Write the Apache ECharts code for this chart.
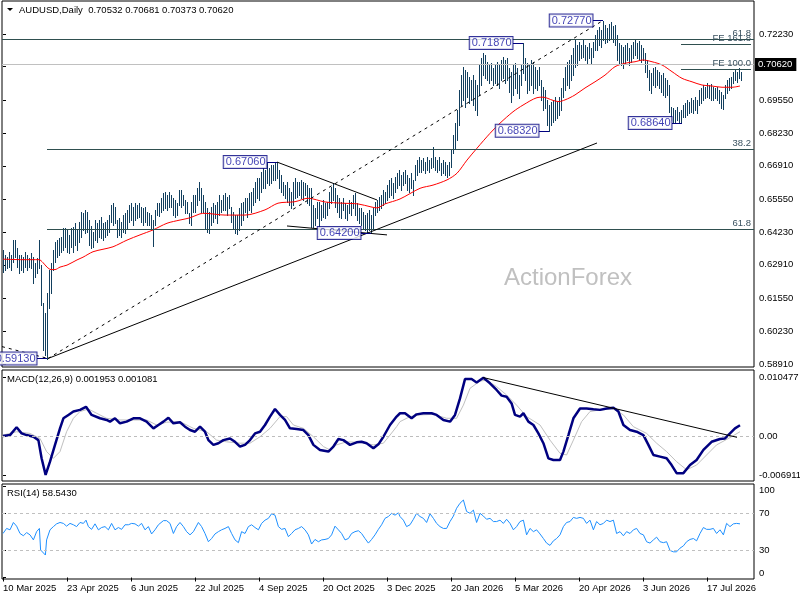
<!DOCTYPE html>
<html><head><meta charset="utf-8">
<script src="https://cdn.jsdelivr.net/npm/echarts@6/dist/echarts.min.js"></script>
<style>html,body{margin:0;padding:0;background:#fff}#c{width:800px;height:600px}</style>
</head><body><div id="c"></div>
<script>
// ---------- DATA ----------
const symbolTitle = 'AUDUSD,Daily';
const lastOHLC = ['0.70532', '0.70681', '0.70373', '0.70620'];
const macdTitle = 'MACD(12,26,9) 0.001953 0.001081';
const rsiTitle = 'RSI(14) 58.5430';
const watermark = 'ActionForex';

const dateLabels = ['10 Mar 2025','23 Apr 2025','6 Jun 2025','22 Jul 2025','4 Sep 2025','20 Oct 2025','3 Dec 2025','20 Jan 2026','5 Mar 2026','20 Apr 2026','3 Jun 2026','17 Jul 2026'];
const dateTickIdx = [0,32,64,96,128,160,192,224,256,288,320,352];
const priceTicks = [0.58910,0.60230,0.61550,0.62910,0.64230,0.65550,0.66910,0.68230,0.69550,0.70910,0.72230];
const macdTicks = [-0.006911, 0, 0.010477];
const rsiTicks = [0, 30, 70, 100];

// daily highs / lows in pips (1/10000)
const highPips = [
6351,6331,6323,6343,6331,6391,6391,6359,6331,6331,
6323,6343,6331,6319,6339,6323,6299,6319,6391,6290,
6137,6097,6177,6270,6299,6351,6383,6391,6399,6404,
6440,6440,6432,6412,6440,6444,6460,6432,6464,6504,
6500,6513,6504,6472,6448,6424,6472,6460,6472,6484,
6460,6464,6472,6492,6533,6541,6525,6472,6480,6464,
6492,6500,6513,6533,6541,6525,6541,6533,6541,6525,
6521,6525,6504,6500,6492,6472,6513,6541,6541,6561,
6581,6585,6573,6585,6573,6561,6553,6541,6593,6593,
6573,6553,6545,6500,6545,6573,6573,6601,6626,6601,
6573,6545,6521,6504,6525,6541,6533,6545,6573,6553,
6573,6581,6565,6573,6525,6504,6492,6492,6521,6541,
6545,6561,6561,6581,6585,6601,6626,6642,6642,6666,
6682,6674,6702,6682,6694,6694,6702,6706,6674,6654,
6626,6613,6626,6601,6585,6626,6642,6626,6626,6634,
6626,6621,6613,6601,6601,6533,6521,6545,6545,6533,
6553,6541,6545,6585,6605,6621,6601,6573,6561,6545,
6561,6541,6533,6553,6545,6573,6581,6541,6521,6521,
6504,6492,6500,6513,6492,6521,6545,6553,6565,6573,
6593,6585,6613,6634,6642,6621,6646,6662,6674,6654,
6666,6674,6654,6642,6662,6634,6694,6714,6726,6714,
6722,6706,6726,6714,6722,6767,6726,6714,6726,6702,
6714,6706,6694,6706,6755,6815,6864,6916,6997,7057,
7090,7078,7070,7049,7037,7057,7037,7017,7098,7126,
7146,7138,7110,7098,7106,7086,7098,7110,7098,7118,
7130,7118,7126,7086,7070,7098,7106,7086,7057,7098,
7187,7126,7106,7098,7118,7110,7090,7078,7090,7037,
7009,6997,6957,6936,6948,6957,6969,6948,6969,7005,
7045,7090,7110,7118,7138,7166,7199,7179,7191,7179,
7199,7179,7171,7187,7166,7191,7219,7239,7251,7239,
7277,7259,7247,7263,7271,7255,7259,7219,7187,7179,
7171,7179,7187,7166,7179,7191,7199,7187,7195,7179,
7166,7146,7118,7078,7066,7086,7090,7078,7070,7057,
7066,7045,7037,7017,6928,6924,6916,6928,6908,6916,
6936,6944,6957,6948,6965,6957,6969,6957,6997,7005,
7017,7009,7025,7017,7021,7009,7005,7009,6997,6989,
6977,7017,7037,7045,7049,7070,7078,7070,7086,7068
];
const lowPips = [
6262,6270,6278,6282,6270,6303,6323,6282,6258,6270,
6262,6282,6270,6282,6278,6218,6242,6258,6278,6129,
5947,5927,5913,6117,6177,6270,6303,6323,6331,6343,
6351,6363,6343,6339,6363,6343,6371,6351,6383,6404,
6432,6420,6424,6371,6359,6363,6391,6383,6404,6399,
6391,6404,6412,6424,6464,6452,6460,6404,6412,6404,
6424,6420,6440,6464,6472,6452,6472,6480,6484,6464,
6452,6464,6452,6452,6440,6367,6452,6492,6488,6504,
6513,6521,6513,6525,6525,6492,6484,6492,6533,6525,
6533,6500,6500,6460,6452,6504,6504,6533,6553,6504,
6504,6440,6424,6420,6452,6464,6480,6460,6492,6504,
6513,6513,6492,6521,6464,6440,6420,6416,6432,6452,
6472,6504,6484,6513,6504,6533,6545,6561,6553,6585,
6601,6601,6621,6613,6621,6634,6634,6642,6601,6585,
6573,6561,6545,6533,6521,6533,6561,6565,6573,6561,
6553,6573,6541,6533,6444,6444,6452,6480,6444,6472,
6484,6480,6492,6521,6541,6553,6525,6504,6484,6480,
6513,6480,6472,6500,6492,6521,6492,6472,6460,6452,
6440,6432,6424,6432,6420,6440,6492,6504,6513,6521,
6533,6541,6553,6565,6573,6561,6585,6601,6613,6593,
6613,6621,6593,6585,6601,6573,6634,6654,6666,6666,
6674,6662,6674,6666,6682,6686,6674,6666,6674,6654,
6662,6654,6646,6654,6686,6743,6763,6795,6856,6936,
6957,6928,6969,6944,6957,6936,6916,6896,6977,7017,
7057,7045,7037,7025,7037,7017,7025,7017,7005,7037,
7045,7025,7037,6989,6948,6977,7005,6985,6965,7017,
7066,7037,6985,6997,7017,6985,7005,6997,7017,6957,
6916,6924,6856,6832,6856,6868,6876,6884,6896,6916,
6969,6997,7017,7005,7037,7057,7090,7098,7118,7126,
7130,7118,7106,7126,7106,7130,7158,7158,7179,7171,
7199,7187,7191,7199,7207,7191,7179,7118,7106,7098,
7086,7106,7118,7098,7110,7126,7138,7126,7118,7110,
7118,7070,7049,6997,6985,7017,7009,7017,7005,6989,
6977,6969,6977,6908,6876,6868,6868,6876,6864,6864,
6888,6888,6896,6904,6908,6904,6916,6904,6936,6944,
6957,6965,6969,6965,6957,6957,6965,6957,6944,6924,
6920,6965,6985,6997,7005,7025,7037,7029,7045,7037
];

// moving average [bar index, pips]
const maPoints = [[0,6314],[10,6312],[18,6312],[20,6300],[22,6282],[24,6272],[26,6272],[28.5,6282],[32,6290],[37,6311],[40,6322],[45,6344],[50,6354],[55,6364],[62,6391],[68.5,6412],[75,6432],[82,6459],[88.5,6472],[93.5,6481],[98.5,6497],[101,6499],[111,6492],[121,6492],[131,6513],[137.5,6540],[146,6546],[152.5,6560],[161,6545],[169.5,6540],[177.5,6537],[184,6525],[187,6521],[191,6537],[198.5,6557],[208.5,6600],[215,6613],[222,6634],[227,6661],[232,6714],[237,6762],[243.5,6822],[248.5,6863],[255,6909],[260,6936],[267,6966],[270,6968],[275,6955],[278,6950],[281,6957],[283.5,6966],[286,6977],[291,7005],[296,7030],[301,7057],[306,7091],[311,7105],[316,7111],[320,7118],[324.5,7111],[329.5,7098],[334.5,7071],[339.5,7044],[344.5,7030],[349.5,7017],[354.5,7013],[359.5,7008],[364.5,7008],[368.5,7013]];

// MACD main / signal  [bar index, value x 1e-4]
const macdMain = [[0,0.5],[3.5,2],[6.8,16],[9.3,5],[11.8,2],[15.2,-1],[17.7,-7],[19.3,-39.5],[21.3,-69],[23.5,-45.5],[26,-15.5],[28.5,14],[30.2,32],[32.7,38],[35.2,44],[38.5,47],[41.5,52.5],[44.3,38],[48.5,32],[51.8,29],[53.5,26],[56,32],[58.5,23],[61.8,26],[65.2,32],[68.5,32],[71.8,26],[75.2,14],[77.7,20],[80.2,26],[82.7,33],[85.2,23],[88.5,25],[91,17],[93.5,11],[96,8],[98.5,17],[101,8],[102.7,-7],[105.2,-15.5],[107.7,-12.5],[110.2,-7],[113.5,-4],[116,-10],[118.5,-18.5],[121,-15.5],[123.5,-7],[126,5],[128.5,8],[131,20],[133.5,35],[136,48.5],[138.5,38],[141,29],[143.5,14],[146.8,13],[150.2,11],[152.7,2],[155.2,-15.5],[158.5,-24.5],[162.7,-27.5],[165.2,-18.5],[167.7,-5],[170.2,-7],[173.5,-15.5],[176.8,-11],[179.3,-10],[181.8,-12.5],[185.2,-21.5],[187.7,-14.5],[190.2,-1],[193.5,20],[196.8,35],[198.5,41],[201,41],[204.3,32],[206.8,39],[210.2,41],[214.3,41],[216.8,38],[220.2,29],[223.5,26],[226,38],[228.5,67.5],[231,102],[234.3,102],[236.8,96],[240.2,104.5],[243.5,94.5],[246.8,82.5],[249.3,72.5],[251.8,70.5],[254.3,58.5],[256,38],[258.5,35],[260.2,41],[262.7,26],[265.2,20],[267.7,5],[270.2,-12.5],[272.7,-39.5],[275.2,-42.5],[278.5,-42.5],[280.2,-27.5],[282.7,2],[285.2,32],[288.5,49.5],[291.8,49.5],[295.2,48],[298.5,47],[301.8,49.5],[305.2,51],[307.7,44],[310.2,20],[313.5,11],[316.8,8],[320.2,2],[322.7,-15.5],[325.2,-33.5],[328.5,-36.5],[331.8,-39.5],[334.3,-51.5],[336.8,-66],[340.2,-66],[343.5,-51.5],[346.8,-42.5],[350.2,-24.5],[354.3,-10],[358.5,-5],[361,-4],[363.5,5],[366,14],[368.5,19.5]];
const macdSignal = [[0,2],[6.8,8],[13.5,5],[18.5,-4],[21.8,-27.5],[25.2,-39.5],[28.5,-27.5],[31.8,8],[35.2,32],[38.5,44],[42.7,48.5],[46.8,41],[51.8,32],[58.5,29],[65.2,29],[71.8,29],[76.8,20],[81.8,25],[88.5,26],[95.2,14],[101.8,8],[106.8,-7],[111.8,-10],[118.5,-12.5],[123.5,-12.5],[128.5,-1],[133.5,14],[138.5,35],[141.8,35],[145.2,20],[150.2,14],[155.2,-1],[160.2,-18.5],[163.5,-24.5],[166.8,-15.5],[171.8,-10],[178.5,-11],[185.2,-15.5],[190.2,-12.5],[193.5,2],[196.8,17],[198.5,26],[203.5,35],[208.5,38],[215.2,39],[221.8,32],[226.8,32],[230.2,55.5],[233.5,85.5],[238.5,98.5],[241.8,100],[246.8,88.5],[251.8,73.5],[256.8,55.5],[261.8,35],[268.5,20],[273.5,-7],[278.5,-30.5],[281.8,-33.5],[285.2,-7],[289.3,26],[293.5,44],[298.5,47],[305.2,48.5],[310.2,38],[315.2,17],[321.8,5],[326.8,-12.5],[331.8,-27.5],[336.8,-45.5],[341.8,-60],[346.8,-51.5],[351.8,-33.5],[356.8,-15.5],[363.5,-2.5],[368.5,8]];

// RSI [bar index, value]
const rsiPoints = [[0,48],[1.8,53.5],[3.5,52],[5.2,60],[6.8,56],[8.5,48],[10.2,45.5],[11.8,49],[13.5,46.5],[15.2,41],[16.8,50],[18.2,53.5],[18.8,30],[19.8,28],[21.2,24.5],[21.8,41],[23.5,52],[25.2,55.5],[26.8,58.5],[28.5,60],[30.2,59],[31.8,56],[33.5,59],[35.2,57.5],[36.8,55.5],[38.5,60],[40.2,59],[41.5,62.5],[42.7,55.5],[44.3,52.5],[46,58.5],[47.7,52],[49.3,54.5],[51,55.5],[52.7,52],[54.3,59],[56,52],[57.7,54.5],[59.3,52.5],[61,57.5],[62.7,57.5],[64.3,59],[66,58.5],[67.7,56],[69.3,59],[71,52],[72.7,55.5],[74.3,47.5],[76,52],[77.7,57.5],[80.2,62],[81.8,62],[83.5,59],[85.2,48],[86.8,55.5],[88.5,60],[90.2,55.5],[91.8,50],[93.5,46.5],[95.2,50],[97.7,60],[99.3,55.5],[101,48],[102.7,39],[104.3,42.5],[106,47.5],[107.7,50],[109.3,52],[111,53.5],[112.7,55.5],[114.3,48],[116,41],[117.7,38],[119.3,50],[121,48],[122.7,55.5],[124.3,57.5],[126,54.5],[127.7,52],[129.3,59],[131,62.5],[132.7,64.5],[134.3,69.5],[136,68],[137.7,55.5],[139.3,52.5],[141,53.5],[142.7,44.5],[144.3,48],[146,52],[147.7,53.5],[149.3,55.5],[151,52],[152.7,46.5],[154.3,36.5],[156,41.5],[157.7,39],[159.3,41],[161,41.5],[162.7,42.5],[164.3,46.5],[166,56],[167.7,52],[169.3,48],[171,41],[172.7,42.5],[174.3,48],[176,50],[177.7,51],[179.3,48],[181,42.5],[182.7,37.5],[184.3,41.5],[186,46.5],[187.7,52.5],[189.3,57.5],[191,64.5],[192.7,66.5],[194.3,70],[196,68],[197.7,70.5],[198.5,66.5],[200.2,62.5],[201.8,55.5],[203.5,57.5],[205.2,63.5],[206.8,70],[208.5,66.5],[210.2,64.5],[211.8,60],[213.5,69.5],[215.2,64.5],[216.8,59],[218.5,55.5],[220.2,53.5],[221.8,53.5],[223.5,61],[225.2,67],[226.8,75.5],[228.5,81],[230.2,84.5],[231,84.5],[231.8,72],[233.5,70],[235.2,73.5],[236.8,60],[238.5,70],[240.2,67],[241.8,63.5],[243.5,64.5],[245.2,61],[246.8,61],[248.5,62.5],[250.2,59],[251.8,63.5],[253.5,59],[255.2,52],[256.8,55.5],[258.5,61],[260.2,62.5],[261.8,46.5],[263.5,53.5],[265.2,50],[266.8,52],[268.5,47.5],[270.2,42.5],[271.8,37.5],[273.5,35],[275.2,40],[276.8,42.5],[278.5,46.5],[280.2,55.5],[281.8,60],[283.5,61],[285.2,65.5],[286.8,64.5],[288.5,65.5],[290.2,64.5],[291.8,59],[293.5,62.5],[295.2,52],[296.8,61],[298.5,57.5],[300.2,59],[301.8,62.5],[303.5,61],[305.2,62.5],[306.8,48],[308.5,50],[310.2,45.5],[311.8,50],[313.5,48],[315.2,52],[316.8,53.5],[318.5,48],[320.2,46.5],[321.8,39],[323.5,37.5],[325.2,41],[326.8,44],[328.5,39],[330.2,38],[331.8,39],[333.5,29.5],[335.2,28],[336.8,28],[338.5,32],[340.2,34.5],[341.8,39],[343.5,41.5],[345.2,42.5],[346.8,40],[348.5,48],[350.2,54.5],[351.8,52.5],[353.5,52.5],[355.2,53.5],[356.8,48],[358.5,52],[360.2,46.5],[361.8,59],[363.5,55.5],[365.2,58.5],[366.8,59],[368.5,58.5]];

// annotations
const pivotLabels = [[22,0.5913],[137,0.6706],[184,0.6420],[260,0.7187],[273,0.6832],[300,0.7277],[339.5,0.6864]];
const fibLevelsFull = [[0.72056,'61.8']];
const fibLevelsFrom22 = [[0.67576,'38.2'],[0.64345,'61.8']];
const feLevels = [[0.71814,'FE 161.8'],[0.70805,'FE 100.0']];
const lastClose = 0.70620;
const trendSolid = [[22.5,0.5913],[297,0.6783]];
const trendDotted = [[22.5,0.5913],[299.5,0.7275]];
const trendLeftDash = [[-0.5,0.5961],[22.5,0.5913]];
const triUpper = [[137,0.6706],[187,0.6553]];
const triLower = [[142,0.6448],[192,0.6412]];
const macdTrend = [[240,0.01048],[367,-0.0002]];
const rsiLevels = [70,30];

// ---------- CHART ----------
const FONT = '"Liberation Sans", Arial, sans-serif';
const chart = echarts.init(document.getElementById('c'));

const barData = highPips.map((h,i)=>[i, lowPips[i]/10000, h/10000]);
const maData = maPoints.map(p=>[p[0], p[1]/10000]);
const macdData = macdMain.map(p=>[p[0], p[1]/10000]);
const sigData = macdSignal.map(p=>[p[0], p[1]/10000]);

const FIBC = '#2f4f4f';
const lblStyle = {color:'#3a5260', fontSize:9.5, fontFamily:FONT};
const seg = (a,b,ls) => [{coord:a, lineStyle:ls, label:{show:false}}, {coord:b}];

const mainMarks = [];
fibLevelsFull.forEach(([v,t])=>mainMarks.push({yAxis:v, lineStyle:{color:FIBC,width:1,type:'solid'},
  label:Object.assign({show:true, position:'insideEndTop', formatter:t, distance:[3,1]}, lblStyle)}));
fibLevelsFrom22.forEach(([v,t])=>mainMarks.push([{coord:[22,v], lineStyle:{color:FIBC,width:1,type:'solid'},
  label:Object.assign({show:true, position:'insideEndTop', formatter:t, distance:[3,1]}, lblStyle)},{coord:[375.5,v]}]));
feLevels.forEach(([v,t])=>mainMarks.push([{coord:[339,v], lineStyle:{color:FIBC,width:1,type:'solid'},
  label:Object.assign({show:true, position:'insideEndTop', formatter:t, distance:[0,1]}, lblStyle)},{coord:[374,v]}]));
mainMarks.push({yAxis:lastClose, lineStyle:{color:'#c0c0c0',width:1,type:'solid'},
  label:{show:true, position:'end', formatter:lastClose.toFixed(5), color:'#fff', backgroundColor:'#000', padding:[2,4,1,3], fontSize:9.5, fontFamily:FONT, distance:1}});
mainMarks.push(seg(trendSolid[0], trendSolid[1], {color:'#000',width:1,type:'solid'}));
mainMarks.push(seg(trendDotted[0], trendDotted[1], {color:'#000',width:1,type:[3,4]}));
mainMarks.push(seg(trendLeftDash[0], trendLeftDash[1], {color:'#000',width:1,type:[3,4]}));
mainMarks.push(seg(triUpper[0], triUpper[1], {color:'#000',width:1,type:'solid'}));
mainMarks.push(seg(triLower[0], triLower[1], {color:'#000',width:1,type:'solid'}));
pivotLabels.forEach(([i,p])=>mainMarks.push(seg([i-5,p],[i,p],{color:'#000080',width:1,type:'solid'})));

const option = {
  animation:false,
  backgroundColor:'#ffffff',
  textStyle:{fontFamily:FONT},
  grid:[
    {left:2, top:1, width:752, height:366, show:true, borderColor:'#000', borderWidth:1, containLabel:false, outerBoundsMode:'none'},
    {left:2, top:370, width:752, height:111, show:true, borderColor:'#000', borderWidth:1, containLabel:false, outerBoundsMode:'none'},
    {left:2, top:484, width:752, height:95, show:true, borderColor:'#000', borderWidth:1, containLabel:false, outerBoundsMode:'none'}
  ],
  xAxis:[0,1,2].map(g=>({
    type:'value', gridIndex:g, min:-0.5, max:375.5, position:'bottom',
    axisLine:{show:false}, splitLine:{show:false},
    axisTick: g===2 ? {show:true, customValues:dateTickIdx, length:4, lineStyle:{color:'#000'}} : {show:false},
    axisLabel: g===2 ? {show:true, customValues:dateTickIdx, formatter:v=>dateLabels[Math.round(v/32)] || '',
      align:'left', margin:4, fontSize:9.5, color:'#000', fontFamily:FONT} : {show:false}
  })),
  yAxis:[
    {type:'value', gridIndex:0, position:'right', min:0.58787, max:0.73562,
     axisLine:{show:false}, splitLine:{show:false},
     axisTick:{show:true, customValues:priceTicks, length:3, lineStyle:{color:'#000'}},
     axisLabel:{show:true, customValues:priceTicks, formatter:v=>v.toFixed(5), margin:5, fontSize:9.5, color:'#000', fontFamily:FONT}},
    {type:'value', gridIndex:1, position:'right', min:-0.0080, max:0.011821,
     axisLine:{show:false}, splitLine:{show:false},
     axisTick:{show:true, customValues:macdTicks, length:3, lineStyle:{color:'#000'}},
     axisLabel:{show:true, customValues:macdTicks, formatter:v=>Math.abs(v)<1e-12?'0.00':v.toFixed(6), margin:5, fontSize:9.5, color:'#000', fontFamily:FONT}},
    {type:'value', gridIndex:2, position:'right', min:-1.64, max:101.96,
     axisLine:{show:false}, splitLine:{show:false},
     axisTick:{show:true, customValues:rsiTicks, length:3, lineStyle:{color:'#000'}},
     axisLabel:{show:true, customValues:rsiTicks, margin:5, fontSize:9.5, color:'#000', fontFamily:FONT,
       formatter:v=> v===100 ? '{t|100}' : (v===0 ? '{b|0}' : String(v)),
       rich:{t:{padding:[9,0,0,0], fontSize:9.5, color:'#000', fontFamily:FONT}, b:{padding:[0,0,9,0], fontSize:9.5, color:'#000', fontFamily:FONT}}}}
  ],
  graphic:[
    {type:'text', left:504, top:266, z:0, style:{text:watermark, fontSize:24, fontFamily:FONT, fill:'#c0c0c0'}},
    {type:'polygon', shape:{points:[[7,8],[13,8],[10,11]]}, style:{fill:'#000'}},
    {type:'text', left:19, top:5, style:{text:symbolTitle+'  '+lastOHLC.join(' '), fontSize:9.5, fontFamily:FONT, fill:'#000'}},
    {type:'text', left:7, top:374, style:{text:macdTitle, fontSize:9.5, fontFamily:FONT, fill:'#000'}},
    {type:'text', left:7, top:488, style:{text:rsiTitle, fontSize:9.5, fontFamily:FONT, fill:'#000'}}
  ],
  series:[
    {type:'custom', name:'bars', xAxisIndex:0, yAxisIndex:0, data:barData, encode:{x:0, y:[1,2]}, z:3,
     renderItem:(params, api)=>{
       const x = api.value(0);
       const lo = api.coord([x, api.value(1)]);
       const hi = api.coord([x, api.value(2)]);
       const px = Math.round(lo[0]) + 0.5;
       return {type:'line', shape:{x1:px, y1:Math.round(hi[1]), x2:px, y2:Math.round(lo[1])+1},
               style:{stroke:'#123f5e', lineWidth:1}};
     }},
    {type:'line', name:'ma', xAxisIndex:0, yAxisIndex:0, data:maData, showSymbol:false, smooth:0.3, z:4,
     lineStyle:{color:'#ff0000', width:1}},
    {type:'scatter', name:'pivots', xAxisIndex:0, yAxisIndex:0, data:pivotLabels, symbolSize:1, z:6,
     itemStyle:{color:'rgba(0,0,0,0)'},
     label:{show:true, position:'left', distance:10, formatter:p=>p.value[1].toFixed(5),
       color:'#1010a0', backgroundColor:'#fff', borderColor:'#000080', borderWidth:1,
       padding:[1,1,0,2], fontSize:11, lineHeight:11, fontFamily:FONT},
     markLine:{silent:true, symbol:['none','none'], animation:false, data:mainMarks}},
    {type:'line', name:'signal', xAxisIndex:1, yAxisIndex:1, data:sigData, showSymbol:false, z:2,
     lineStyle:{color:'#c0c0c0', width:1}},
    {type:'line', name:'macd', xAxisIndex:1, yAxisIndex:1, data:macdData, showSymbol:false, z:3,
     lineStyle:{color:'#000080', width:2.5},
     markLine:{silent:true, symbol:['none','none'], animation:false, data:[
       {yAxis:0, lineStyle:{color:'#bdbdbd', width:1, type:[3,3]}, label:{show:false}},
       seg(macdTrend[0], macdTrend[1], {color:'#000', width:1, type:'solid'})
     ]}},
    {type:'line', name:'rsi', xAxisIndex:2, yAxisIndex:2, data:rsiPoints, showSymbol:false, z:3,
     lineStyle:{color:'#1e90ff', width:1},
     markLine:{silent:true, symbol:['none','none'], animation:false,
       data:rsiLevels.map(v=>({yAxis:v, lineStyle:{color:'#c0c0c0', width:1, type:[3,3]}, label:{show:false}}))}}
  ]
};
chart.setOption(option);
</script>
</body></html>
